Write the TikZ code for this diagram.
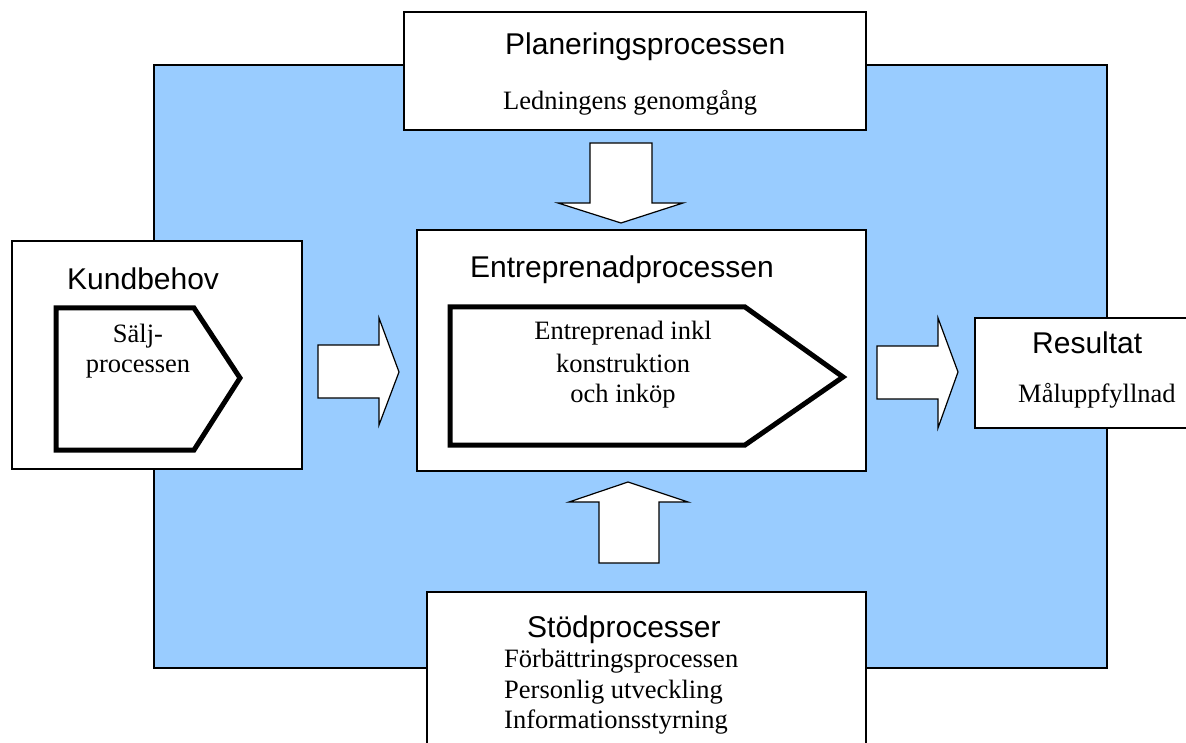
\documentclass[tikz,border=0pt]{standalone}
\usepackage{fontspec}
\setmainfont{Liberation Serif}
\newfontfamily\arialf{Liberation Sans}
\definecolor{bg}{RGB}{153,204,255}
\begin{document}
\begin{tikzpicture}[x=1pt,y=-1pt,
 frame/.style={draw=black, line width=1.3pt, fill=white, inner sep=0pt, outer sep=0pt, anchor=north west},
 penta/.style={draw=black, line width=5pt, fill=white, line join=miter},
 blockarrow/.style={draw=black, line width=1.2pt, fill=white, line join=miter},
 hd/.style={font=\arialf\fontsize{30}{36}\selectfont, inner sep=0pt, anchor=base west},
 bd/.style={font=\fontsize{26.5}{31}\selectfont, inner sep=0pt, anchor=base west},
 bdc/.style={font=\fontsize{26.5}{31}\selectfont, inner sep=0pt, anchor=base},
]
\useasboundingbox (0,0) rectangle (1186,743);
\clip (0,0) rectangle (1186,743);
% background
\draw[fill=bg, line width=1.3pt] (154,65) rectangle (1107,668);
% boxes
\node[frame, minimum width=462pt, minimum height=118pt] (plan) at (404,12) {};
\node[frame, minimum width=449pt, minimum height=241pt] (entr) at (417,230) {};
\node[frame, minimum width=439pt, minimum height=170pt] (stod) at (427,592) {};
\node[frame, minimum width=290pt, minimum height=228pt] (kund) at (12,241) {};
\node[frame, minimum width=240pt, minimum height=110pt] (res) at (975,318) {};
% pentagons
\draw[penta] (56,308) -- (194,308) -- (240,378) -- (194,450) -- (56,450) -- cycle;
\draw[penta] (450,307) -- (745,307) -- (843,377) -- (745,445) -- (450,445) -- cycle;
% block arrows
\draw[blockarrow] (590,143) -- (652,143) -- (652,203) -- (683,203) -- (621,223) -- (558,203) -- (590,203) -- cycle;
\draw[blockarrow] (599,563) -- (659,563) -- (659,502) -- (688,502) -- (628,482) -- (569,502) -- (599,502) -- cycle;
\draw[blockarrow] (318,345) -- (379,345) -- (379,318) -- (399,372) -- (379,425) -- (379,398) -- (318,398) -- cycle;
\draw[blockarrow] (877,346) -- (938,346) -- (938,318) -- (958,372) -- (938,428) -- (938,399) -- (877,399) -- cycle;
% texts
\node[hd] (t1) at (505,55) {Planeringsprocessen};
\node[bd] (t2) at (503,110) {Ledningens genomgång};
\node[hd] (t3) at (470,278) {Entreprenadprocessen};
\node[bdc] (t4) at (623,340) {Entreprenad inkl};
\node[bdc] (t5) at (623,372) {konstruktion};
\node[bdc] (t6) at (623,402) {och inköp};
\node[hd] (t7) at (67,290) {Kundbehov};
\node[bdc] (t8) at (138,342) {Sälj-};
\node[bdc] (t9) at (138,372) {processen};
\node[hd] (t10) at (1032,353) {Resultat};
\node[bd] (t11) at (1018,402) {Måluppfyllnad};
\node[hd] (t12) at (527,637) {Stödprocesser};
\node[bd] (t13) at (504,667) {Förbättringsprocessen};
\node[bd] (t14) at (504,698) {Personlig utveckling};
\node[bd] (t15) at (504,728) {Informationsstyrning};
\end{tikzpicture}
\end{document}
